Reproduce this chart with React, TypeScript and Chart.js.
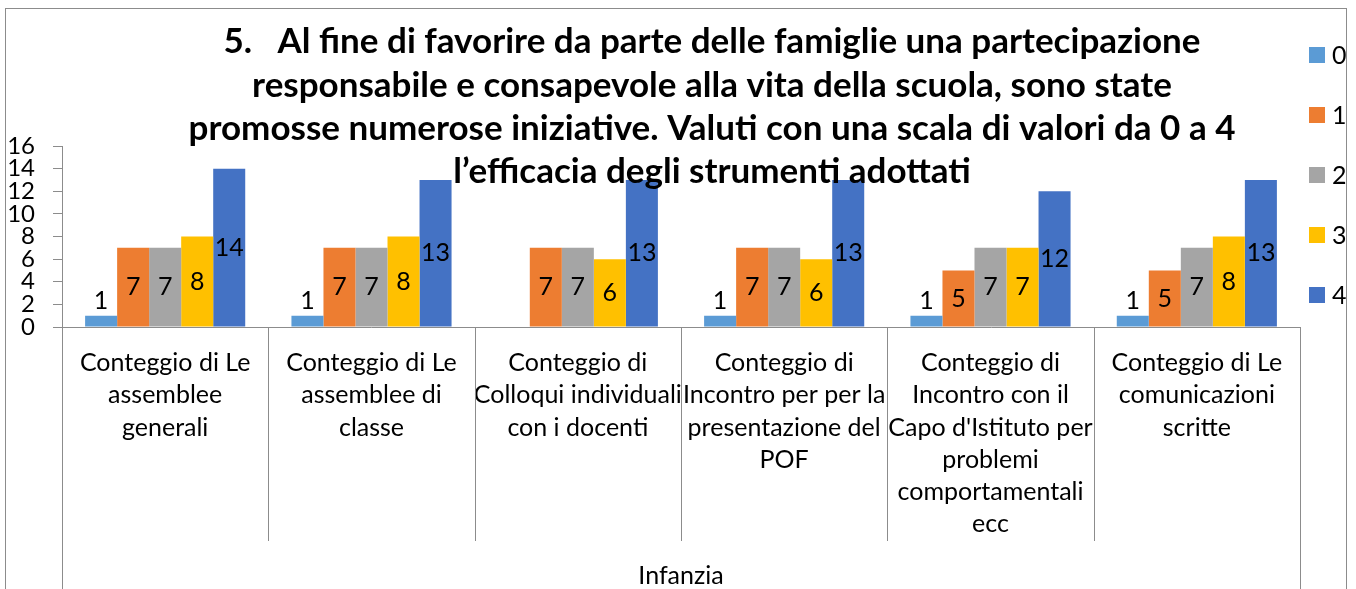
import React, { useEffect, useRef } from "react";
import { Chart, registerables } from "chart.js";

Chart.register(...registerables);

const categories: string[][] = [
  ["Conteggio di Le", "assemblee", "generali"],
  ["Conteggio di Le", "assemblee di", "classe"],
  ["Conteggio di", "Colloqui individuali", "con i docenti"],
  ["Conteggio di", "Incontro per per la", "presentazione del", "POF"],
  ["Conteggio di", "Incontro con il", "Capo d'Istituto per", "problemi", "comportamentali", "ecc"],
  ["Conteggio di Le", "comunicazioni", "scritte"],
];
const groupLabel = "Infanzia";
const seriesNames = ["0", "1", "2", "3", "4"];
const values0: (number | null)[] = [1, 1, null, 1, 1, 1];
const values1: (number | null)[] = [7, 7, 7, 7, 5, 5];
const values2: (number | null)[] = [7, 7, 7, 7, 7, 7];
const values3: (number | null)[] = [8, 8, 6, 6, 7, 8];
const values4: (number | null)[] = [14, 13, 13, 13, 12, 13];
const seriesColors = ["#5B9BD5", "#ED7D31", "#A5A5A5", "#FFC000", "#4472C4"];
const titleLines = [
  "5.   Al fine di favorire da parte delle famiglie una partecipazione",
  "responsabile e consapevole alla vita della scuola, sono state",
  "promosse numerose iniziative. Valuti con una scala di valori da 0 a 4",
  "l\u2019efficacia degli strumenti adottati",
];

const FONT = "Lato, 'Open Sans', sans-serif";
const AXIS_COLOR = "#8C8C8C";

const overlayPlugin = {
  id: "overlay",
  beforeDraw(chart: any) {
    const ctx = chart.ctx;
    ctx.save();
    ctx.fillStyle = "#ffffff";
    ctx.fillRect(0, 0, chart.width, chart.height);
    ctx.restore();
  },
  afterDatasetsDraw(chart: any) {
    const ctx = chart.ctx;
    ctx.save();
    ctx.font = `25px ${FONT}`;
    ctx.fillStyle = "#000000";
    ctx.textAlign = "center";
    ctx.textBaseline = "middle";
    chart.data.datasets.forEach((ds: any, di: number) => {
      const meta = chart.getDatasetMeta(di);
      meta.data.forEach((bar: any, i: number) => {
        const v = ds.data[i];
        if (v === null || v === undefined) return;
        const y = v >= 3 ? (bar.y + bar.base) / 2 : bar.y - 15;
        ctx.fillText(String(v), bar.x, y);
      });
    });
    ctx.restore();
  },
  afterDraw(chart: any) {
    const ctx = chart.ctx;
    const area = chart.chartArea;
    const xs = chart.scales.x;
    ctx.save();
    // chart border
    ctx.strokeStyle = AXIS_COLOR;
    ctx.lineWidth = 1;
    ctx.strokeRect(5.5, 8.5, 1341, 700);

    // category dividers
    const n = categories.length;
    const step = (xs.right - xs.left) / n;
    ctx.beginPath();
    for (let i = 0; i <= n; i++) {
      const x = Math.round(xs.left + i * step) + 0.5;
      const outer = i === 0 || i === n;
      ctx.moveTo(x, area.bottom);
      ctx.lineTo(x, outer ? chart.height : area.bottom + 214);
    }
    ctx.stroke();

    // group label
    ctx.fillStyle = "#000000";
    ctx.font = `25px ${FONT}`;
    ctx.textAlign = "center";
    ctx.textBaseline = "middle";
    ctx.fillText(groupLabel, (xs.left + xs.right) / 2, 576);

    // legend
    ctx.textAlign = "left";
    ctx.font = `25px ${FONT}`;
    seriesNames.forEach((name, i) => {
      const cy = 55 + i * 60;
      ctx.fillStyle = seriesColors[i];
      ctx.fillRect(1309, cy - 8, 16, 16);
      ctx.fillStyle = "#000000";
      ctx.fillText(name, 1332, cy + 1);
    });

    // title
    ctx.font = `bold 35px ${FONT}`;
    ctx.textAlign = "center";
    ctx.fillStyle = "#000000";
    const ys = [42, 86, 129, 172];
    titleLines.forEach((line, i) => {
      ctx.fillText(line, 712, ys[i]);
    });
    ctx.restore();
  },
};

export default function App() {
  const canvasRef = useRef<HTMLCanvasElement | null>(null);
  useEffect(() => {
    document.body.style.margin = "0";
    const canvas = canvasRef.current;
    if (!canvas) return;
    const chart = new Chart(canvas, {
      type: "bar",
      data: {
        labels: categories,
        datasets: [values0, values1, values2, values3, values4].map((d, i) => ({
          label: seriesNames[i],
          data: d,
          backgroundColor: seriesColors[i],
          borderWidth: 0,
          categoryPercentage: 0.776,
          barPercentage: 1,
        })),
      },
      options: {
        animation: false,
        responsive: false,
        devicePixelRatio: 1,
        layout: { padding: { top: 146, left: 0, right: 56, bottom: 0 } },
        plugins: {
          legend: { display: false },
          title: { display: false },
          tooltip: { enabled: false },
        },
        scales: {
          x: {
            grid: { display: true, drawOnChartArea: false, drawTicks: false },
            border: { display: true, color: AXIS_COLOR, width: 1 },
            ticks: {
              color: "#000000",
              maxRotation: 0,
              autoSkip: false,
              padding: 20,
              font: { family: FONT, size: 25, lineHeight: 32.2 / 25 },
            },
            afterFit: (scale: any) => {
              scale.height = 262;
            },
          },
          y: {
            min: 0,
            max: 16,
            grid: { display: true, drawOnChartArea: false, drawTicks: true, tickLength: 9, color: AXIS_COLOR },
            border: { display: true, color: AXIS_COLOR, width: 1 },
            ticks: {
              stepSize: 2,
              autoSkip: false,
              color: "#000000",
              padding: 18,
              font: { family: FONT, size: 24, lineHeight: 1 },
            },
            afterFit: (scale: any) => {
              scale.width = 62;
            },
          },
        },
      },
      plugins: [overlayPlugin],
    });
    return () => chart.destroy();
  }, []);
  return (
    <div style={{ width: 1356, height: 589 }}>
      <canvas ref={canvasRef} width={1356} height={589} style={{ display: "block" }} />
    </div>
  );
}
